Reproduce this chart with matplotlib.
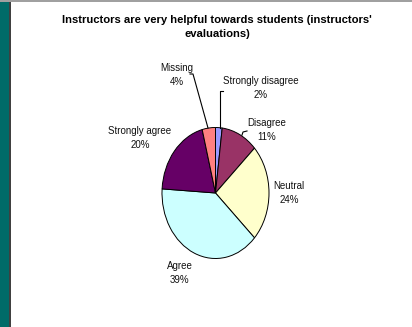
import matplotlib
matplotlib.use("Agg")
import matplotlib.pyplot as plt
from matplotlib import font_manager
from matplotlib.patches import Rectangle

# Survey responses (percent of instructors)
categories = ["Strongly disagree", "Disagree", "Neutral", "Agree", "Strongly agree", "Missing"]
shares = [2, 11, 24, 39, 20, 4]
colors = ["#9999FF", "#993366", "#FFFFCC", "#CCFFFF", "#660066", "#FF8080"]
title = "Instructors are very helpful towards students (instructors'\nevaluations)"

names = {f.name for f in font_manager.fontManager.ttflist}
family = "Liberation Sans Narrow" if "Liberation Sans Narrow" in names else "Liberation Sans"
plt.rcParams["font.family"] = [family, "DejaVu Sans"]

W, H = 412, 327
fig = plt.figure(figsize=(W / 100, H / 100), dpi=100)
fig.patch.set_facecolor("white")

# Left sidebar strip and frame lines
fig.add_artist(Rectangle((0, 0), 9 / W, 1, transform=fig.transFigure,
                         facecolor="#006B68", edgecolor="none"))
fig.add_artist(Rectangle((9 / W, 0), 1.5 / W, 1, transform=fig.transFigure,
                         facecolor="#404040", edgecolor="none"))
fig.add_artist(Rectangle((0, 1 - 1.5 / H), 1, 1.5 / H, transform=fig.transFigure,
                         facecolor="#A0A0A0", edgecolor="none"))

fig.text(217 / W, 1 - 27 / H, title, ha="center", va="center", fontsize=8.1,
         fontweight="bold", linespacing=1.45)

# Elliptical pie: axes sized so the unit circle maps to the oval
cx, cy, rx, ry = 215.5, 193, 53.5, 65.5
ax = fig.add_axes([(cx - rx) / W, 1 - (cy + ry) / H, 2 * rx / W, 2 * ry / H])
ax.pie(shares, colors=colors, startangle=90, counterclock=False,
       wedgeprops=dict(edgecolor="black", linewidth=0.7))
ax.set_aspect("auto")
ax.set_xlim(-1, 1)
ax.set_ylim(-1, 1)
ax.axis("off")


def px(x, y):
    """Pixel position -> pie axes data coordinates."""
    return (x - cx) / rx, (cy - y) / ry


label_pos = {
    "Strongly disagree": (261, 88),
    "Disagree": (267, 130),
    "Neutral": (289, 193),
    "Agree": (180, 273),
    "Strongly agree": (140, 138),
    "Missing": (177, 75),
}
for name, share in zip(categories, shares):
    x, y = px(*label_pos[name])
    ax.text(x, y, f"{name}\n{share}%", ha="center", va="center", fontsize=7.0,
            linespacing=1.6, clip_on=False, color="#111111")

# Leader lines
leaders = [
    [(190, 74), (193, 74), (208, 128)],
    [(223, 91), (220, 91), (220, 128)],
    [(247, 131), (243, 132), (242, 135)],
]
for pts in leaders:
    xs, ys = zip(*[px(*p) for p in pts])
    ax.plot(xs, ys, color="black", linewidth=0.8, clip_on=False)

fig.savefig("out.png", dpi=100, facecolor="white")
